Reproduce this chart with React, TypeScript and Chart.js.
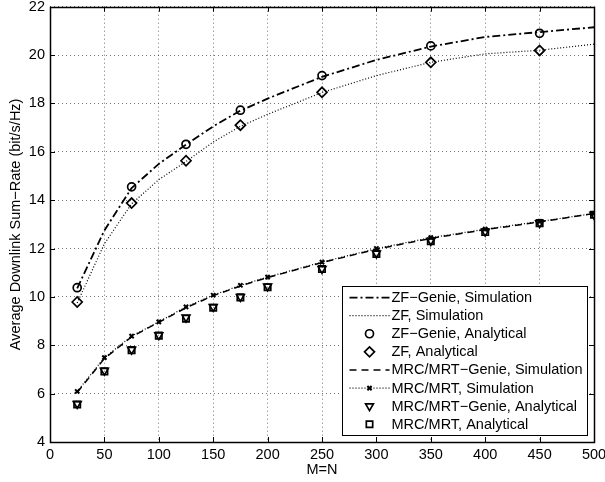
import React, { useEffect, useRef } from 'react';
import { Chart, registerables } from 'chart.js';
import { drawPoint } from 'chart.js/helpers';

Chart.register(...registerables);

const FONT = '"Liberation Sans", Arial, Helvetica, sans-serif';
const FSIZE = 14.5;

// ---------- data ----------
const mValues = [25, 50, 75, 100, 125, 150, 175, 200, 250, 300, 350, 400, 450, 500];
const zfGenieSim = [10.35, 12.75, 14.5, 15.5, 16.3, 17.05, 17.7, 18.2, 19.1, 19.8, 20.35, 20.75, 20.95, 21.15];
const zfSim = [9.75, 12.2, 13.85, 14.85, 15.6, 16.4, 17.05, 17.55, 18.45, 19.15, 19.7, 20.05, 20.2, 20.45];

const zfAnalyticalM = [25, 75, 125, 175, 250, 350, 450];
const zfGenieAnalytical = [10.38, 14.55, 16.31, 17.72, 19.15, 20.38, 20.9];
const zfAnalytical = [9.79, 13.88, 15.63, 17.1, 18.46, 19.7, 20.19];

const mrcGenieSim = [6.05, 7.45, 8.35, 8.95, 9.55, 10.05, 10.45, 10.8, 11.42, 11.97, 12.42, 12.78, 13.1, 13.45];
const mrcSim = [6.09, 7.49, 8.38, 8.97, 9.59, 10.07, 10.48, 10.82, 11.44, 12.0, 12.45, 12.8, 13.12, 13.45];
const mrcGenieAnalytical = [5.58, 6.95, 7.82, 8.42, 9.15, 9.59, 10.0, 10.44, 11.16, 11.8, 12.32, 12.7, 13.05, 13.4];
const mrcAnalytical = [5.55, 6.92, 7.8, 8.4, 9.1, 9.55, 9.98, 10.4, 11.15, 11.78, 12.3, 12.68, 13.05, 13.4];

const seriesLabels = [
  'ZF−Genie, Simulation',
  'ZF, Simulation',
  'ZF−Genie, Analytical',
  'ZF, Analytical',
  'MRC/MRT−Genie, Simulation',
  'MRC/MRT, Simulation',
  'MRC/MRT−Genie, Analytical',
  'MRC/MRT, Analytical',
];

const xTitle = 'M=N';
const yTitle = 'Average Downlink Sum−Rate (bit/s/Hz)';

const pts = (xs: number[], ys: number[]) => xs.map((x, i) => ({ x, y: ys[i] }));

// ---------- plugin: frame, inward ticks, legend ----------
const framePlugin = {
  id: 'matlabFrame',
  afterDraw(chart: any) {
    const { ctx, chartArea: a, scales } = chart;
    ctx.save();
    ctx.strokeStyle = '#000';
    ctx.lineWidth = 1;
    const tl = 5;
    ctx.beginPath();
    scales.x.ticks.forEach((t: any) => {
      const px = Math.round(scales.x.getPixelForValue(t.value)) + 0.5;
      ctx.moveTo(px, a.bottom); ctx.lineTo(px, a.bottom - tl);
      ctx.moveTo(px, a.top); ctx.lineTo(px, a.top + tl);
    });
    scales.y.ticks.forEach((t: any) => {
      const py = Math.round(scales.y.getPixelForValue(t.value)) + 0.5;
      ctx.moveTo(a.left, py); ctx.lineTo(a.left + tl, py);
      ctx.moveTo(a.right, py); ctx.lineTo(a.right - tl, py);
    });
    ctx.stroke();
    ctx.lineWidth = 1.5;
    ctx.strokeRect(Math.round(a.left) + 0.5, Math.round(a.top) + 0.5, Math.round(a.right - a.left), Math.round(a.bottom - a.top));

    // legend
    const ds = chart.data.datasets;
    ctx.font = `${FSIZE}px ${FONT}`;
    let maxW = 0;
    ds.forEach((d: any) => { maxW = Math.max(maxW, ctx.measureText(d.label).width); });
    const rowH = 18.1;
    const textOff = 49;
    const boxW = textOff + maxW + 5;
    const boxH = ds.length * rowH + 4;
    const right = a.right - 7;
    const bottom = a.bottom - 7;
    const left = Math.round(right - boxW) + 0.5;
    const top = Math.round(bottom - boxH) + 0.5;
    ctx.fillStyle = '#fff';
    ctx.fillRect(left, top, right - left, bottom - top);
    ctx.lineWidth = 1;
    ctx.strokeStyle = '#000';
    ctx.strokeRect(left, top, Math.round(right - left), Math.round(bottom - top));
    ds.forEach((d: any, i: number) => {
      const cy = top + 2 + rowH * (i + 0.5);
      const x0 = left + 7, x1 = left + 47, cx = (x0 + x1) / 2;
      if (d.showLine !== false) {
        ctx.save();
        ctx.strokeStyle = d.borderColor;
        ctx.lineWidth = d.borderWidth;
        ctx.setLineDash(d.borderDash || []);
        ctx.beginPath();
        ctx.moveTo(x0, cy); ctx.lineTo(x1, cy);
        ctx.stroke();
        ctx.restore();
      }
      if (d.pointRadius > 0) {
        ctx.save();
        ctx.strokeStyle = d.pointBorderColor || '#000';
        ctx.fillStyle = 'rgba(0,0,0,0)';
        ctx.lineWidth = d.pointBorderWidth;
        drawPoint(ctx, { pointStyle: d.pointStyle, rotation: d.pointRotation || 0, radius: d.pointRadius, borderWidth: d.pointBorderWidth }, cx, cy);
        ctx.restore();
      }
      ctx.fillStyle = '#000';
      ctx.textBaseline = 'middle';
      ctx.textAlign = 'left';
      ctx.fillText(d.label, left + textOff, cy + 0.5);
    });
    ctx.restore();
  },
};

export default function App() {
  const ref = useRef<HTMLCanvasElement>(null);
  useEffect(() => {
    const lineDs = (label: string, ys: number[], dash: number[], width: number, extra: any = {}) => ({
      label,
      data: pts(mValues, ys),
      borderColor: '#000',
      backgroundColor: 'rgba(0,0,0,0)',
      borderWidth: width,
      borderDash: dash,
      pointRadius: 0,
      tension: 0,
      fill: false,
      ...extra,
    });
    const markDs = (label: string, xs: number[], ys: number[], style: string, radius: number, extra: any = {}) => ({
      label,
      data: pts(xs, ys),
      showLine: false,
      borderColor: '#000',
      backgroundColor: 'rgba(0,0,0,0)',
      pointStyle: style,
      pointRadius: radius,
      pointBorderColor: '#000',
      pointBackgroundColor: 'rgba(0,0,0,0)',
      pointBorderWidth: 1.7,
      ...extra,
    });
    const datasets: any[] = [
      lineDs(seriesLabels[0], zfGenieSim, [8, 3, 2, 3], 1.8),
      lineDs(seriesLabels[1], zfSim, [1, 2], 1.2),
      markDs(seriesLabels[2], zfAnalyticalM, zfGenieAnalytical, 'circle', 4),
      markDs(seriesLabels[3], zfAnalyticalM, zfAnalytical, 'rectRot', 5),
      lineDs(seriesLabels[4], mrcGenieSim, [7, 5], 1.5),
      lineDs(seriesLabels[5], mrcSim, [1, 2], 1.2, {
        pointStyle: 'crossRot', pointRadius: 3, pointBorderWidth: 2, pointBorderColor: '#000', pointBackgroundColor: 'rgba(0,0,0,0)',
      }),
      markDs(seriesLabels[6], mValues, mrcGenieAnalytical, 'triangle', 4.5, { pointRotation: 180 }),
      markDs(seriesLabels[7], mValues, mrcAnalytical, 'rect', 4.5),
    ];
    const tickFont = { family: FONT, size: FSIZE };
    const chart = new Chart(ref.current as HTMLCanvasElement, {
      type: 'line',
      data: { datasets },
      options: {
        responsive: true,
        maintainAspectRatio: false,
        animation: false,
        events: [],
        layout: { padding: { left: 0, right: 11, top: 5, bottom: 0 } },
        plugins: { legend: { display: false }, tooltip: { enabled: false } },
        scales: {
          x: {
            type: 'linear',
            min: 0,
            max: 500,
            ticks: { stepSize: 50, color: '#000', font: tickFont, padding: 4, maxRotation: 0, autoSkip: false },
            grid: { color: 'rgba(0,0,0,0.55)', lineWidth: 1, drawTicks: false },
            border: { display: false, dash: [1, 3] },
            title: { display: true, text: xTitle, color: '#000', font: tickFont, padding: { top: 0, bottom: 3 } },
            afterFit: (s: any) => { s.height = 40; s.paddingLeft = 0; s.paddingRight = 0; },
          },
          y: {
            type: 'linear',
            min: 4,
            max: 22,
            ticks: { stepSize: 2, color: '#000', font: tickFont, padding: 5 },
            grid: { color: 'rgba(0,0,0,0.55)', lineWidth: 1, drawTicks: false },
            border: { display: false, dash: [1, 3] },
            title: { display: true, text: yTitle, color: '#000', font: tickFont, padding: { top: 7, bottom: 0 } },
            afterFit: (s: any) => { s.width = 50; s.paddingTop = 0; s.paddingBottom = 0; },
          },
        },
      } as any,
      plugins: [framePlugin],
    });
    return () => chart.destroy();
  }, []);
  return (
    <div style={{ position: 'fixed', left: 0, top: 0, width: 605, height: 482, background: '#fff' }}>
      <canvas ref={ref} />
    </div>
  );
}
